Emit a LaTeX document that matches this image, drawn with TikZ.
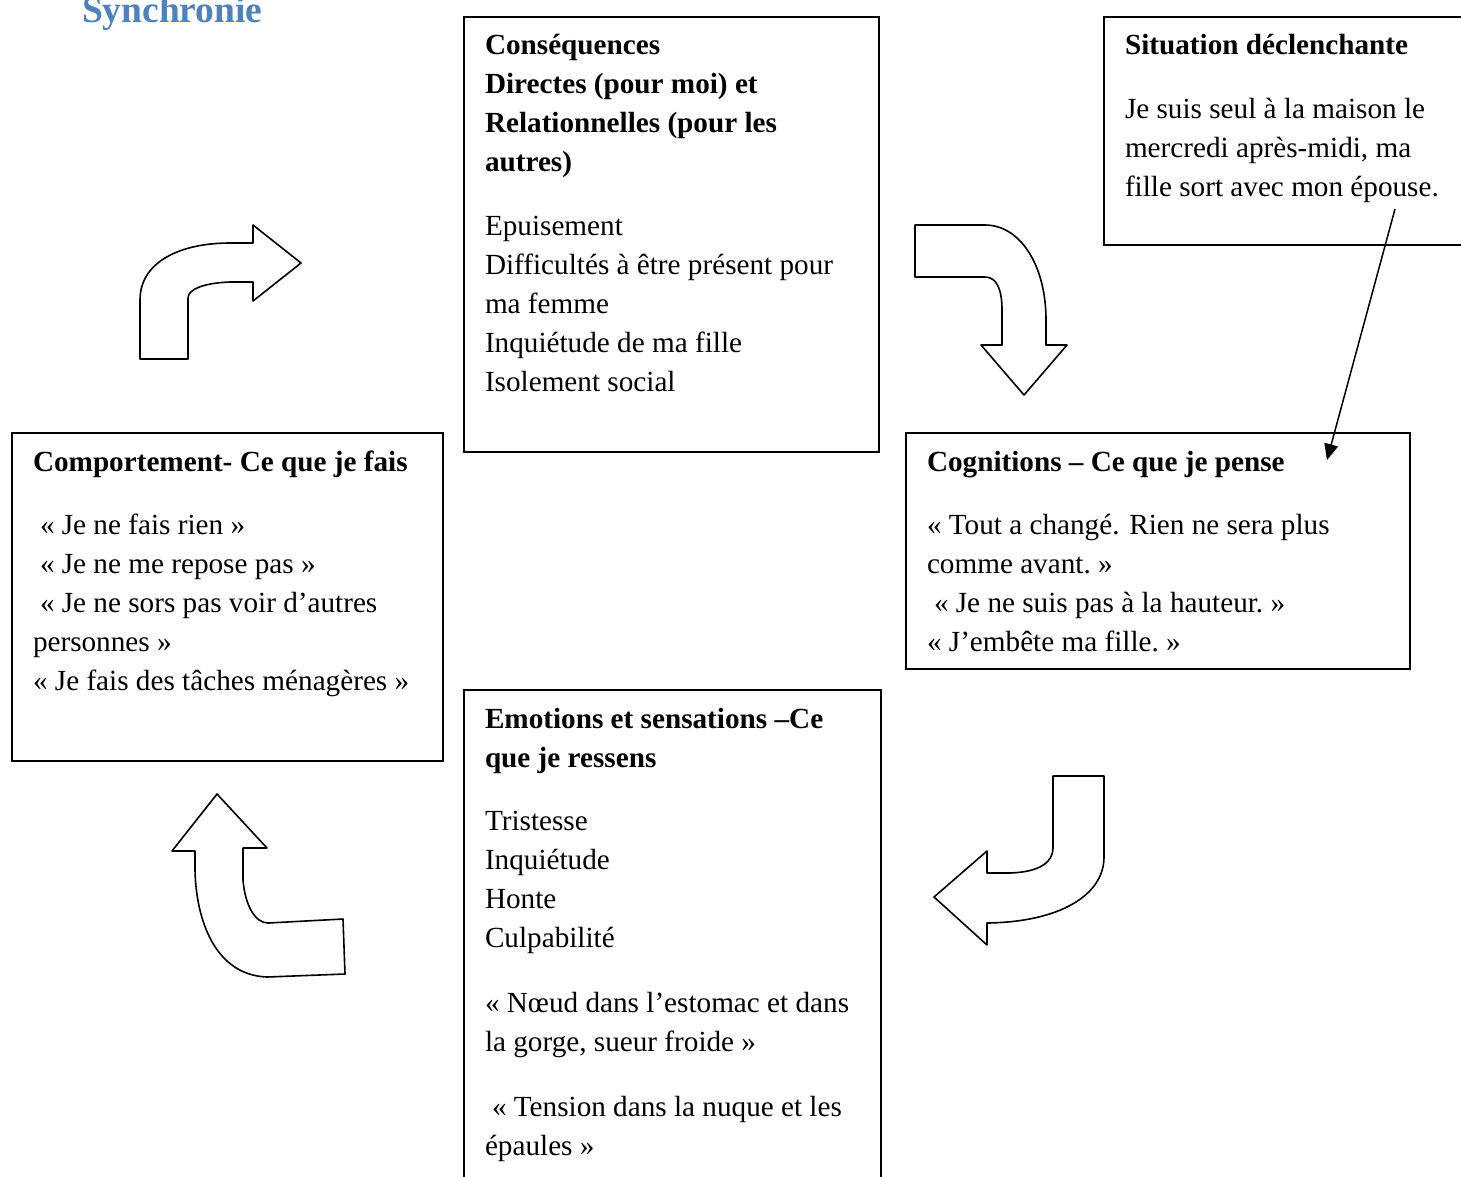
\documentclass[tikz,border=0pt]{standalone}
\usepackage{fontspec}
\setmainfont{Liberation Serif}
\usetikzlibrary{arrows.meta}
\definecolor{titleblue}{RGB}{79,129,189}
\tikzset{
  box/.style={draw, line width=1.3pt, inner sep=0pt, outer sep=0pt, anchor=north west},
  txt/.style={anchor=base west, inner sep=0pt, outer sep=0pt},
  bendarrow/.style={draw, line width=1.6pt, line join=round, fill=white},
  link/.style={line width=1.5pt, -{Triangle[length=16pt,width=14pt]}},
}
\newcommand{\tblock}[2]{\parbox[t]{#1}{\raggedright\fontsize{29.2}{39}\selectfont #2}}
\begin{document}
\begin{tikzpicture}[x=1pt,y=-1pt]
\clip (0,0) rectangle (1461,1176);
\fill[white] (0,0) rectangle (1461,1176);

% title
\node[txt, text=titleblue, font=\fontsize{37.5}{42}\selectfont\bfseries] (title) at (82,22) {Synchronie};

% boxes
\node[box, minimum width=415pt, minimum height=435pt] (cons) at (464,17) {};
\node[box, minimum width=380pt, minimum height=228pt] (sit) at (1104,17) {};
\node[box, minimum width=431pt, minimum height=328pt] (comp) at (12,433) {};
\node[box, minimum width=504pt, minimum height=236pt] (cogn) at (906,433) {};
\node[box, minimum width=417pt, minimum height=520pt] (emo) at (464,690) {};

% texts
\node[txt] (constxt) at (485,54) {\tblock{420pt}{\bfseries Conséquences\\ Directes (pour moi) et\\ Relationnelles (pour les\\ autres)\\[25pt]
\mdseries Epuisement\\ Difficultés à être présent pour\\ ma femme\\ Inquiétude de ma fille\\ Isolement social}};

\node[txt] (sittxt) at (1125,54) {\tblock{360pt}{\bfseries Situation déclenchante\\[25pt]
\mdseries Je suis seul à la maison le\\ mercredi après-midi, ma\\ fille sort avec mon épouse.}};

\node[txt] (comptxt) at (33,471) {\tblock{440pt}{\bfseries Comportement- Ce que je fais\\[24pt]
\mdseries \hspace*{7pt}«~Je ne fais rien~»\\ \hspace*{7pt}«~Je ne me repose pas~»\\ \hspace*{7pt}«~Je ne sors pas voir d’autres\\ personnes~»\\ «~Je fais des tâches ménagères~»}};

\node[txt] (cogntxt) at (927,471) {\tblock{500pt}{\bfseries Cognitions – Ce que je pense\\[24pt]
\mdseries «~Tout a changé. Rien ne sera plus\\ comme avant.~»\\ \hspace*{7pt}«~Je ne suis pas à la hauteur.~»\\ «~J’embête ma fille.~»}};

\node[txt] (emotxt) at (485,728) {\tblock{420pt}{\bfseries Emotions et sensations –Ce\\ que je ressens\\[24pt]
\mdseries Tristesse\\ Inquiétude\\ Honte\\ Culpabilité\\[26pt]
«~Nœud dans l’estomac et dans\\ la gorge, sueur froide~»\\[26pt]
\hspace*{7pt}«~Tension dans la nuque et les\\ épaules~»}};

% curved block arrows
% top-left: up then right
\path[bendarrow] (140,359) -- (140,300) .. controls (140,262) and (180,243) .. (230,243)
  -- (253,243) -- (253,225) -- (301,263) -- (253,301) -- (253,282) -- (230,282)
  .. controls (202,283) and (188,290) .. (188,298) -- (188,359) -- cycle;
% top-right: right then down
\path[bendarrow] (915,225) -- (985,225) .. controls (1020,225) and (1046,265) .. (1046,320)
  -- (1046,345) -- (1067,345) -- (1024,395) -- (981,345) -- (1002,345) -- (1002,310)
  .. controls (1002,290) and (997,277) .. (985,277) -- (915,277) -- cycle;
% bottom-right: down then left
\path[bendarrow] (1053,776) -- (1104,776) -- (1104,857) .. controls (1104,895) and (1060,922) .. (987,923)
  -- (987,945) -- (934,897) -- (987,851) -- (987,873) -- (1010,873)
  .. controls (1040,872) and (1053,862) .. (1053,848) -- cycle;
% bottom-left: left then up
\path[bendarrow] (343,919) -- (345,974) -- (267,977) .. controls (215,975) and (196,920) .. (195,870)
  -- (195,851) -- (172,851) -- (217,794) -- (267,848) -- (243,848) -- (243,880)
  .. controls (245,905) and (255,923) .. (268,923) -- cycle;

% straight connector
\coordinate (sitfrom) at (1395,209);
\coordinate (cognto) at (1327,460);
\draw[link] (sitfrom) -- (cognto);
\end{tikzpicture}
\end{document}
